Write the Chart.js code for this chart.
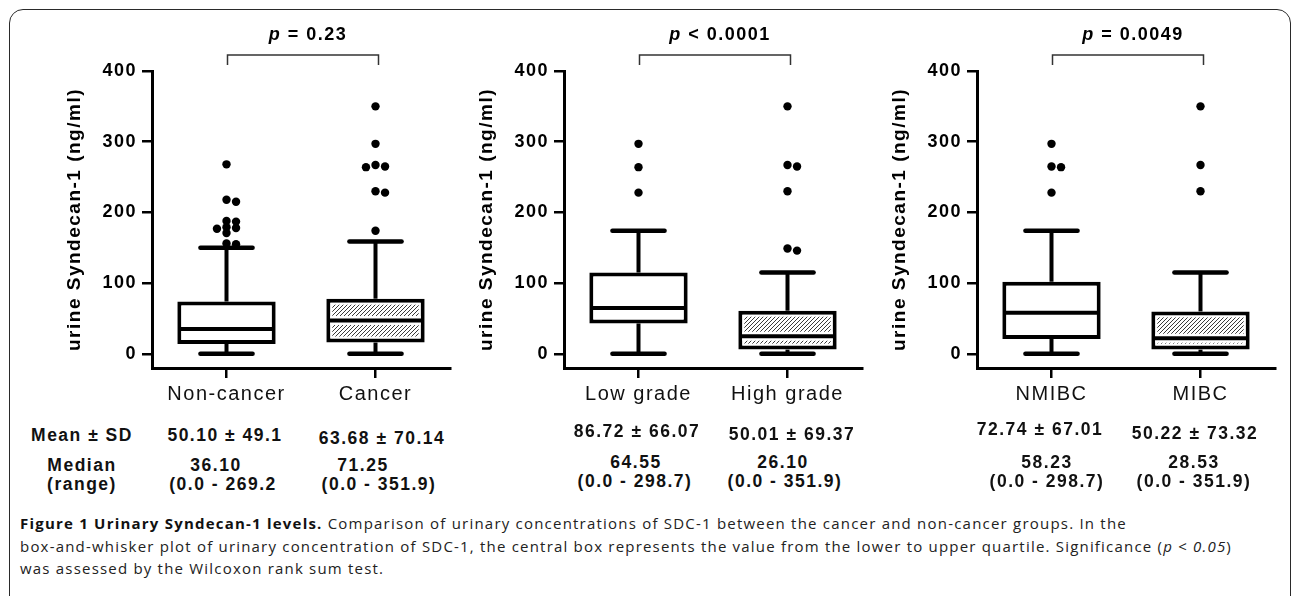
<!DOCTYPE html>
<html><head><meta charset="utf-8">
<script src="https://cdn.jsdelivr.net/npm/chart.js@4"></script>
<style>
html,body{margin:0;padding:0;background:#fff;}
body{width:1292px;height:596px;position:relative;overflow:hidden;font-family:'Liberation Sans',Arial,sans-serif;}
#frame{position:absolute;left:9px;top:9px;width:1282px;height:660px;border:1.5px solid #2a2a2a;border-radius:14px;box-sizing:border-box;}
.cv{position:absolute;top:0;width:440px;height:420px;}
.st{position:absolute;transform:translate(-50%,-50%);white-space:nowrap;font-weight:bold;font-size:17.5px;letter-spacing:1.5px;line-height:1;color:#111;}
.cap{position:absolute;left:20px;white-space:nowrap;font-family:'Open Sans',sans-serif;font-size:15px;line-height:1;color:#222;transform:translateY(-50%);}
.cap b{font-weight:700;color:#111;}
</style></head>
<body>
<div id="frame"></div>
<div class="cv" style="left:20px"><canvas id="c0" width="440" height="420"></canvas></div>
<div class="cv" style="left:432px"><canvas id="c1" width="440" height="420"></canvas></div>
<div class="cv" style="left:845px"><canvas id="c2" width="440" height="420"></canvas></div>
<div id="stats"></div>
<div class="cap" id="cap1" style="top:523px"><b>Figure 1 Urinary Syndecan-1 levels.</b> Comparison of urinary concentrations of SDC-1 between the cancer and non-cancer groups. In the</div>
<div class="cap" id="cap2" style="top:546px">box-and-whisker plot of urinary concentration of SDC-1, the central box represents the value from the lower to upper quartile. Significance (<i>p</i> &lt; <i>0.05</i>)</div>
<div class="cap" id="cap3" style="top:568px">was assessed by the Wilcoxon rank sum test.</div>
<script>
// ---------------- DATA ----------------
const yTicks = [0, 100, 200, 300, 400];
const yTitle = 'urine Syndecan-1 (ng/ml)';

const categoriesA = ['Non-cancer', 'Cancer'];
const whiskerLowA = [0, 0];
const q1A = [14, 16];
const medianA = [35, 47];
const q3A = [74, 78];
const whiskerHighA = [150, 159];
const outliersA = [[268, 218, 215, 188, 187, 179, 178, 177, 171, 156, 155], [350, 297, 267, 265, 264, 230, 228, 174]];
const pLabelA = '= 0.23';

const categoriesB = ['Low grade', 'High grade'];
const whiskerLowB = [0, 0];
const q1B = [43, 6];
const medianB = [65, 25];
const q3B = [115, 61];
const whiskerHighB = [174, 115];
const outliersB = [[297, 264, 228], [350, 267, 265, 230, 149, 146]];
const pLabelB = '< 0.0001';

const categoriesC = ['NMIBC', 'MIBC'];
const whiskerLowC = [0, 0];
const q1C = [21, 6];
const medianC = [58, 22];
const q3C = [102, 60];
const whiskerHighC = [174, 115];
const outliersC = [[297, 265, 264, 228], [350, 267, 230]];
const pLabelC = '= 0.0049';

const statRowLabels = ['Mean \u00B1 SD', 'Median', '(range)'];
const meanSD = ['50.10 \u00B1 49.1', '63.68 \u00B1 70.14', '86.72 \u00B1 66.07', '50.01 \u00B1 69.37', '72.74 \u00B1 67.01', '50.22 \u00B1 73.32'];
const medianText = ['36.10', '71.25', '64.55', '26.10', '58.23', '28.53'];
const rangeText = ['(0.0 - 269.2', '(0.0 - 351.9)', '(0.0 - 298.7)', '(0.0 - 351.9)', '(0.0 - 298.7)', '(0.0 - 351.9)'];

// ---------------- LAYOUT / STYLE ----------------
const FONT = "'Liberation Sans', Arial, sans-serif";
Chart.defaults.font.family = FONT;
const hatchedBox = [false, true];

function makePattern() {
  const pc = document.createElement('canvas');
  pc.width = 4; pc.height = 4;
  const g = pc.getContext('2d');
  g.fillStyle = '#fff'; g.fillRect(0, 0, 4, 4);
  g.strokeStyle = '#3a3a3a'; g.lineWidth = 1;
  g.beginPath();
  g.moveTo(0, 4); g.lineTo(4, 0);
  g.moveTo(-1, 1); g.lineTo(1, -1);
  g.moveTo(3, 5); g.lineTo(5, 3);
  g.stroke();
  return document.createElement('canvas').getContext('2d').createPattern(pc, 'repeat');
}
const hatch = makePattern();

function swarm(vals) {
  const sorted = [...vals].sort((a, b) => b - a);
  const placed = [];
  const order = [0, 1, -1, 2, -2];
  sorted.forEach(v => {
    for (const k of order) {
      if (!placed.some(p => p.k === k && Math.abs(p.v - v) < 6)) { placed.push({v, k}); break; }
    }
  });
  return placed.map(p => ({v: p.v, off: p.k * 0.064}));
}

function seg(ctx, x0, y0, x1, y1) { ctx.beginPath(); ctx.moveTo(x0, y0); ctx.lineTo(x1, y1); ctx.stroke(); }

const boxPlugin = {
  id: 'boxes',
  beforeDraw(chart) { chart.ctx.letterSpacing = '1.5px'; },
  afterDatasetsDraw(chart) {
    const d = chart.options.plugins.boxes;
    const meta = chart.getDatasetMeta(0);
    const ys = chart.scales.y, xs = chart.scales.xs;
    const ctx = chart.ctx;
    ctx.save();
    meta.data.forEach((bar, i) => {
      const {x, y, base, width} = bar.getProps(['x', 'y', 'base', 'width'], true);
      const top = Math.min(y, base), bot = Math.max(y, base);
      const left = x - width / 2, right = x + width / 2;
      const bw = 4;
      if (hatchedBox[i]) {
        ctx.fillStyle = hatch;
        ctx.fillRect(left + bw + 2, top + bw + 2, width - 2 * bw - 4, bot - top - 2 * bw - 4);
      }
      const my = ys.getPixelForValue(d.med[i]);
      ctx.lineCap = 'butt';
      if (hatchedBox[i]) { ctx.strokeStyle = '#fff'; ctx.lineWidth = 9; seg(ctx, left + bw, my, right - bw, my); }
      ctx.strokeStyle = '#000'; ctx.lineWidth = 4;
      seg(ctx, left + bw / 2, my, right - bw / 2, my);
      const hy = ys.getPixelForValue(d.hi[i]), ly = ys.getPixelForValue(d.lo[i]);
      ctx.lineWidth = 4;
      seg(ctx, x, top, x, hy);
      seg(ctx, x, bot, x, ly);
      const cl = xs.getPixelForValue(i - 0.175), cr = xs.getPixelForValue(i + 0.175);
      ctx.lineWidth = 4.5; ctx.lineCap = 'round';
      seg(ctx, cl, hy, cr, hy);
      seg(ctx, cl, ly, cr, ly);
    });
    ctx.restore();
  },
  afterDraw(chart) {
    const d = chart.options.plugins.boxes;
    const ctx = chart.ctx;
    const x0 = chart.scales.x.getPixelForValue(0) + 1, x1 = chart.scales.x.getPixelForValue(1) + 3;
    const ty = chart.chartArea.top;
    ctx.save();
    ctx.strokeStyle = '#333'; ctx.lineWidth = 1.5; ctx.lineCap = 'butt';
    ctx.beginPath();
    ctx.moveTo(x0, ty - 6); ctx.lineTo(x0, ty - 16); ctx.lineTo(x1, ty - 16); ctx.lineTo(x1, ty - 6);
    ctx.stroke();
    ctx.letterSpacing = '1.5px';
    ctx.fillStyle = '#000'; ctx.textBaseline = 'middle'; ctx.textAlign = 'left';
    ctx.font = 'italic bold 18px ' + FONT; const pw = ctx.measureText('p').width;
    ctx.font = 'bold 18px ' + FONT; const rw = ctx.measureText(' ' + d.p).width;
    const cx = (x0 + x1) / 2 + 5; const sx = cx - (pw + rw) / 2;
    ctx.font = 'italic bold 18px ' + FONT; ctx.fillText('p', sx, ty - 36);
    ctx.font = 'bold 18px ' + FONT; ctx.fillText(' ' + d.p, sx + pw, ty - 36);
    ctx.restore();
  }
};

function makePanel(id, cats, lo, q1, med, q3, hi, outliers, pLabel) {
  const scatterData = [];
  outliers.forEach((vals, ci) => swarm(vals).forEach(p => scatterData.push({x: ci + p.off, y: p.v})));
  return new Chart(document.getElementById(id), {
    type: 'bar',
    data: {
      labels: cats,
      datasets: [
        {type: 'bar', data: cats.map((c, i) => [q1[i], q3[i]]), backgroundColor: '#fff', borderColor: '#000',
         borderWidth: 4, borderSkipped: false, barPercentage: 0.66, categoryPercentage: 1, grouped: false,
         xAxisID: 'x', yAxisID: 'y'},
        {type: 'scatter', data: scatterData, xAxisID: 'xs', yAxisID: 'y', pointRadius: 4.2,
         pointBackgroundColor: '#000', pointBorderWidth: 0, pointHoverRadius: 4.2}
      ]
    },
    options: {
      responsive: false, animation: false, events: [],
      layout: {padding: {top: 71, right: 10, left: 0, bottom: 0}},
      plugins: {legend: {display: false}, tooltip: {enabled: false},
        boxes: {lo, med, hi, p: pLabel}},
      scales: {
        x: {type: 'category', offset: true,
            grid: {display: true, drawOnChartArea: false, drawTicks: true, tickLength: 10, lineWidth: 2.5, color: '#000', offset: false},
            border: {display: true, color: '#000', width: 3},
            ticks: {color: '#111', font: {size: 20, weight: 'normal'}, padding: 4, maxRotation: 0, autoSkip: false},
            afterFit(s) { s.height = 52; }},
        xs: {type: 'linear', display: false, min: -0.5, max: 1.5, offset: false, grid: {offset: false}},
        y: {type: 'linear', min: -20, max: 400,
            ticks: {color: '#000', font: {size: 18, weight: 'bold'}, padding: 5},
            afterBuildTicks(s) { s.ticks = yTicks.map(v => ({value: v})); },
            grid: {drawOnChartArea: false, drawTicks: true, tickLength: 10, lineWidth: 2.5, color: '#000'},
            border: {display: true, color: '#000', width: 3},
            title: {display: true, text: yTitle, color: '#000', font: {size: 19, weight: 'bold'}, padding: {top: 43, bottom: 0}},
            afterFit(s) { s.width = 132; }}
      }
    },
    plugins: [boxPlugin]
  });
}

makePanel('c0', categoriesA, whiskerLowA, q1A, medianA, q3A, whiskerHighA, outliersA, pLabelA);
makePanel('c1', categoriesB, whiskerLowB, q1B, medianB, q3B, whiskerHighB, outliersB, pLabelB);
makePanel('c2', categoriesC, whiskerLowC, q1C, medianC, q3C, whiskerHighC, outliersC, pLabelC);

// ---------------- STATS TEXT ----------------
const meanX = [225, 382, 637, 792, 1040, 1195];
const meanY = [436, 439, 432, 435, 430, 434];
const medX = [216, 363, 636, 783, 1047, 1194];
const rngX = [223, 379, 635, 785, 1047, 1194];
const medY = [466, 466, 463, 463, 463, 463];
const rngY = [485, 485, 482, 482, 482, 482];
const stats = document.getElementById('stats');
function put(txt, x, y) {
  const e = document.createElement('div'); e.className = 'st'; e.textContent = txt;
  e.style.left = x + 'px'; e.style.top = y + 'px'; stats.appendChild(e);
}
put(statRowLabels[0], 82, 436);
put(statRowLabels[1], 82, 466);
put(statRowLabels[2], 82, 485);
meanSD.forEach((t, i) => put(t, meanX[i], meanY[i]));
medianText.forEach((t, i) => put(t, medX[i], medY[i]));
rangeText.forEach((t, i) => put(t, rngX[i], rngY[i]));

// fit caption width
(document.fonts ? document.fonts.ready : Promise.resolve()).then(() => {
  const fit = [['cap1', 1107], ['cap2', 1212]];
  fit.forEach(([id, target]) => {
    const el = document.getElementById(id);
    const w = el.getBoundingClientRect().width;
    const n = el.textContent.length;
    el.style.letterSpacing = ((target - w) / n).toFixed(3) + 'px';
  });
  const ls = document.getElementById('cap2').style.letterSpacing;
  document.getElementById('cap3').style.letterSpacing = ls;
});
</script>
</body></html>
